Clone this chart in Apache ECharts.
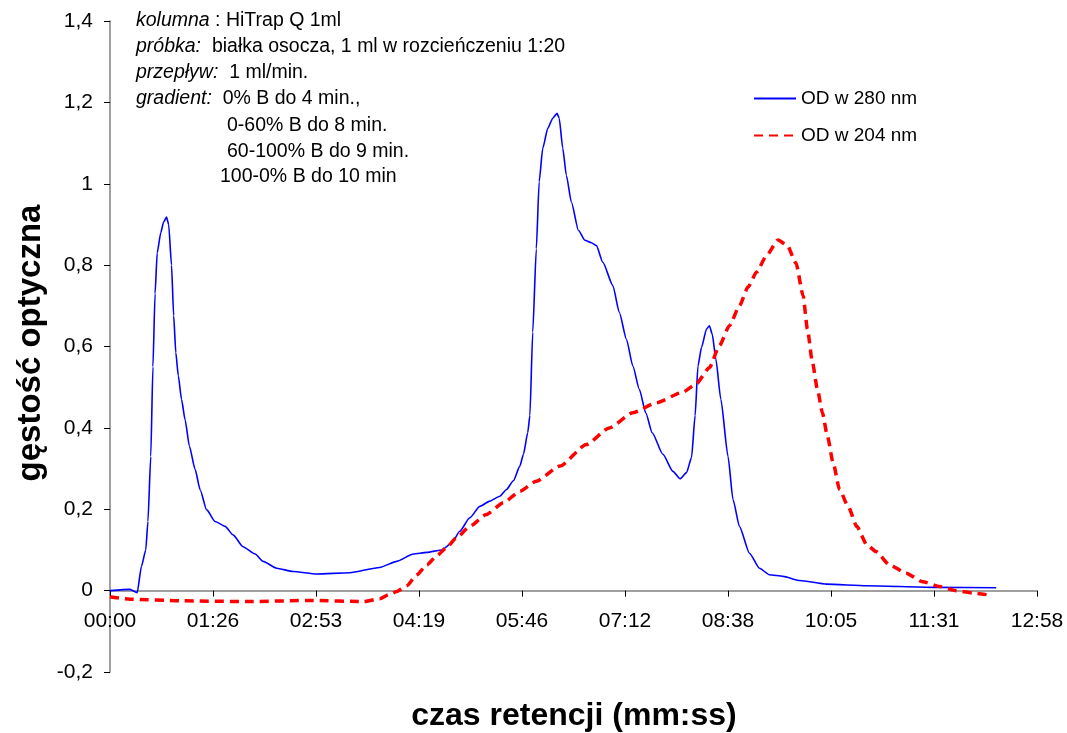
<!DOCTYPE html>
<html>
<head>
<meta charset="utf-8">
<script src="https://cdn.jsdelivr.net/npm/echarts@6/dist/echarts.min.js"></script>
<style>
  html, body { margin: 0; padding: 0; background: #fff; }
  #chart { width: 1067px; height: 733px; }
</style>
</head>
<body>
<div id="chart"></div>
<script>
// retention time in minutes, absorbance
const t280 = [0, 0.28, 0.38, 0.44, 0.50, 0.53, 0.57, 0.60, 0.63, 0.66, 0.71, 0.75, 0.79, 0.82, 0.86, 0.89, 0.92, 0.955,
  1.0, 1.05, 1.11, 1.19, 1.26, 1.35, 1.47, 1.61, 1.72, 1.86, 2.03, 2.14, 2.33, 2.56, 2.89, 3.35, 3.77, 4.01, 4.24, 4.43,
  4.64, 4.78, 4.89, 5.03, 5.17, 5.31, 5.45, 5.54, 5.64, 5.73, 5.78, 5.84, 5.87, 5.91, 5.96, 6.0, 6.05, 6.12, 6.19, 6.25,
  6.28, 6.33, 6.38, 6.45, 6.55, 6.64, 6.73, 6.80, 6.89, 7.03, 7.12, 7.22, 7.31, 7.40, 7.49, 7.58, 7.73, 7.87, 7.97, 8.06,
  8.13, 8.18, 8.22, 8.27, 8.34, 8.38, 8.42, 8.47, 8.54, 8.64, 8.71, 8.80, 8.94, 9.08, 9.22, 9.41, 9.64, 10.02, 10.58,
  11.51, 12.39]
const od280 = [0, 0.003, -0.005, 0.06, 0.10, 0.17, 0.33, 0.55, 0.73, 0.83, 0.88, 0.906, 0.918, 0.90, 0.80, 0.676, 0.585, 0.528,
  0.47, 0.42, 0.355, 0.298, 0.248, 0.199, 0.17, 0.158, 0.137, 0.108, 0.09, 0.072, 0.055, 0.047, 0.041, 0.044, 0.057, 0.072, 0.09, 0.094,
  0.10, 0.117, 0.146, 0.179, 0.207, 0.22, 0.232, 0.248, 0.27, 0.306, 0.335, 0.388, 0.43, 0.635, 0.84, 1.005, 1.087, 1.136, 1.161, 1.173,
  1.161, 1.087, 1.021, 0.955, 0.885, 0.861, 0.855, 0.848, 0.807, 0.75, 0.684, 0.618, 0.552, 0.495, 0.437, 0.388, 0.335, 0.293, 0.275, 0.29,
  0.327, 0.43, 0.552, 0.598, 0.643, 0.651, 0.63, 0.569, 0.47, 0.33, 0.224, 0.158, 0.092, 0.055, 0.039, 0.035, 0.025, 0.016, 0.012,
  0.008, 0.007]

const t204 = [0, 0.28, 0.98, 1.91, 2.84, 3.54, 3.77, 3.90, 4.01, 4.15, 4.29, 4.43, 4.56, 4.70, 4.84, 5.03, 5.26, 5.50, 5.73,
  5.96, 6.29, 6.66, 6.98, 7.31, 7.64, 8.0, 8.19, 8.38, 8.52, 8.66, 8.80, 8.92, 9.04, 9.18, 9.34, 9.47, 9.59, 9.69, 9.75,
  9.82, 9.89, 9.96, 10.03, 10.11, 10.20, 10.32, 10.44, 10.58, 10.71, 10.90, 11.13, 11.36, 11.60, 11.83, 12.07, 12.30]
const od204 = [-0.015, -0.021, -0.025, -0.027, -0.024, -0.027, -0.02, -0.01, -0.002, 0.012, 0.039, 0.063, 0.084, 0.105, 0.129, 0.158, 0.187, 0.216, 0.244,
  0.269, 0.306, 0.359, 0.40, 0.437, 0.462, 0.487, 0.507, 0.548, 0.602, 0.651, 0.70, 0.746, 0.783, 0.824, 0.862, 0.848, 0.805, 0.725, 0.643,
  0.561, 0.495, 0.437, 0.38, 0.314, 0.248, 0.207, 0.158, 0.113, 0.096, 0.063, 0.043, 0.022, 0.01, 0, -0.006, -0.011]

const seriesNames = ['OD w 280 nm', 'OD w 204 nm']
// Excel major unit 0.001 day = 1.44 min
const xStep = 1.44
const xMax = 12.96
const yMin = -0.2
const yMax = 1.4
const yStep = 0.2

const notes = [
  { text: '{i|kolumna} : HiTrap Q 1ml', x: 136, y: 22 },
  { text: '{i|próbka:}  białka osocza, 1 ml w rozcieńczeniu 1:20', x: 136, y: 48 },
  { text: '{i|przepływ:}  1 ml/min.', x: 136, y: 74 },
  { text: '{i|gradient:}  0% B do 4 min.,', x: 136, y: 100 },
  { text: '0-60% B do 8 min.', x: 227, y: 127 },
  { text: '60-100% B do 9 min.', x: 227, y: 153 },
  { text: '100-0% B do 10 min', x: 220, y: 178 },
]

const FONT = '"Liberation Sans", Arial, sans-serif'
const GRID = { left: 110, right: 30, top: 21, bottom: 61 }
// x axis sits at y = 0, not at the bottom of the plot
const plotH = 733 - GRID.top - GRID.bottom
const zeroShift = plotH * (0 - yMin) / (yMax - yMin)

const fmtTime = (v) => {
  const s = Math.round(v * 60)
  const mm = String(Math.floor(s / 60)).padStart(2, '0')
  const ss = String(s % 60).padStart(2, '0')
  return `${mm}:${ss}`
}

const chart = echarts.init(document.getElementById('chart'))

const option = {
  animation: false,
  textStyle: { fontFamily: FONT },
  grid: GRID,
  legend: {
    data: seriesNames,
    orient: 'vertical',
    left: 748,
    top: 84,
    itemWidth: 42,
    itemHeight: 10,
    itemGap: 18,
    itemStyle: { opacity: 0 },
    textStyle: { fontSize: 19, color: '#000', fontFamily: FONT },
  },
  xAxis: {
    type: 'value',
    min: 0,
    max: xMax,
    interval: xStep,
    offset: -zeroShift,
    axisLine: { onZero: false, lineStyle: { color: '#808080', width: 1.5 } },
    axisTick: { show: true, inside: false, length: 6, lineStyle: { color: '#000' } },
    axisLabel: { formatter: fmtTime, fontSize: 21, color: '#000', margin: 20, fontFamily: FONT },
    splitLine: { show: false },
  },
  yAxis: {
    type: 'value',
    min: yMin,
    max: yMax,
    interval: yStep,
    axisLine: { show: true, onZero: false, lineStyle: { color: '#808080', width: 1.5 } },
    axisTick: { show: true, inside: false, length: 6, lineStyle: { color: '#000' } },
    axisLabel: {
      formatter: (v) => String(+v.toFixed(1)).replace('.', ','),
      fontSize: 21, color: '#000', margin: 17, fontFamily: FONT,
    },
    splitLine: { show: false },
  },
  graphic: [
    ...notes.map((n) => ({
      type: 'text',
      left: n.x,
      top: n.y - 11,
      style: {
        text: n.text,
        font: `19.5px ${FONT}`,
        fill: '#000',
        rich: { i: { fontStyle: 'italic', fontSize: 19.5, fontFamily: FONT } },
      },
    })),
    {
      type: 'text',
      x: 31,
      y: 343,
      rotation: Math.PI / 2,
      style: {
        text: 'gęstość optyczna',
        font: `bold 33px ${FONT}`,
        fill: '#000',
        align: 'center',
        verticalAlign: 'middle',
      },
    },
    {
      type: 'text',
      x: 574,
      y: 716,
      style: {
        text: 'czas retencji (mm:ss)',
        font: `bold 32px ${FONT}`,
        fill: '#000',
        align: 'center',
        verticalAlign: 'middle',
      },
    },
  ],
  series: [
    {
      name: seriesNames[0],
      type: 'line',
      data: t280.map((t, i) => [t, od280[i]]),
      symbol: 'none',
      smooth: 0.2,
      smoothMonotone: 'x',
      lineStyle: { color: '#0000ff', width: 1.6 },
      itemStyle: { color: '#0000ff' },
    },
    {
      name: seriesNames[1],
      type: 'line',
      data: t204.map((t, i) => [t, od204[i]]),
      symbol: 'none',
      smooth: 0.2,
      smoothMonotone: 'x',
      lineStyle: { color: '#ff0000', width: 3.5, type: [9, 6] },
      itemStyle: { color: '#ff0000' },
    },
  ],
}

chart.setOption(option)
</script>
</body>
</html>
